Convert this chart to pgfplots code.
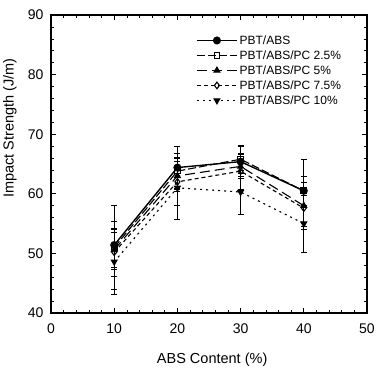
\documentclass[border=0pt]{standalone}
\usepackage{pgfplots}
\pgfplotsset{compat=1.18}
\usetikzlibrary{calc}
\usepackage{fontspec}
\setmainfont{Liberation Sans}

\begin{document}
\begin{tikzpicture}
\begin{axis}[
  scale only axis,
  width=316pt, height=298pt,
  xmin=0, xmax=50, ymin=40, ymax=90,
  xtick={0,10,...,50}, ytick={40,50,...,90},
  minor x tick num=4, minor y tick num=4,
  tick align=inside,
  major tick length=5pt, minor tick length=3pt,
  axis line style={line width=1.1pt},
  every tick/.style={black, line width=0.6pt},
  tick label style={font=\fontsize{14}{16}\selectfont},
  yticklabel style={xshift=-4pt},
  xticklabel style={yshift=-7pt},
  /pgf/number format/assume math mode=true,
  xlabel={ABS Content (\%)},
  ylabel={Impact Strength (J/m)},
  label style={font=\fontsize{14.5}{16}\selectfont},
  xlabel style={at={(axis description cs:0.51,-0.158)}, anchor=center},
  ylabel style={at={(axis description cs:-0.13,0.62)}, anchor=center},
  legend style={draw=none, fill=none, at={(0.459,0.939)}, anchor=north west,
    font=\fontsize{12}{14}\selectfont, inner xsep=0pt, inner ysep=0pt,
    row sep=0.8pt},
  legend cell align=left,
  legend image code/.code={
    \draw[mark repeat=2, mark phase=2, #1] plot coordinates {(0pt,0pt) (20pt,0pt) (40pt,0pt)};},
  error bars/error bar style={line width=0.6pt, black, solid},
  error bars/error mark options={rotate=90, mark size=3pt, line width=0.6pt, solid},
]
% PBT/ABS
\addplot[black, line width=1.4pt, mark=*, mark size=3.3pt,
  error bars/.cd, y dir=both, y explicit]
  coordinates {(10,51.4) +- (0,4.0) (20,64.4) +- (0,3.5) (30,65.4) +- (0,2.5) (40,60.5) +- (0,2.5)};
\addlegendentry{PBT/ABS}
% PBT/ABS/PC 2.5%
\addplot[black, line width=1.1pt, dash pattern=on 8pt off 3pt, mark=square, mark size=2.8pt,
  mark options={solid, fill=white},
  error bars/.cd, y dir=both, y explicit]
  coordinates {(10,51.0) +- (0,7.0) (20,63.8) +- (0,3.0) (30,65.8) +- (0,2.4) (40,60.5) +- (0,5.3)};
\addlegendentry{PBT/ABS/PC 2.5\%}
% PBT/ABS/PC 5%
\addplot[black, line width=1.1pt, dash pattern=on 10pt off 5pt, mark=triangle*, mark size=3.3pt,
  mark options={solid},
  error bars/.cd, y dir=both, y explicit]
  coordinates {(10,50.6) +- (0,3.0) (20,63.0) +- (0,2.5) (30,64.6) +- (0,2.0) (40,58.0) +- (0,4.0)};
\addlegendentry{PBT/ABS/PC 5\%}
% PBT/ABS/PC 7.5%
\addplot[black, line width=1.1pt, dash pattern=on 4pt off 3pt, mark=diamond, mark size=3.3pt,
  mark options={solid, fill=white},
  error bars/.cd, y dir=both, y explicit]
  coordinates {(10,50.2) +- (0,4.0) (20,62.0) +- (0,4.0) (30,63.8) +- (0,3.0) (40,57.6) +- (0,3.0)};
\addlegendentry{PBT/ABS/PC 7.5\%}
% PBT/ABS/PC 10%
\addplot[black, line width=1.1pt, dash pattern=on 2pt off 4pt, mark=triangle*, mark size=3.3pt,
  mark options={solid, rotate=180},
  error bars/.cd, y dir=both, y explicit]
  coordinates {(10,48.6) +- (0,5.4) (20,61.0) +- (0,5.2) (30,60.3) +- (0,3.7) (40,55.0) +- (0,4.8)};
\addlegendentry{PBT/ABS/PC 10\%}
\end{axis}
% fixed page margins around the plot box
\pgfresetboundingbox
\path ($(current axis.south west)+(-51pt,-57pt)$) rectangle ($(current axis.north east)+(10pt,15pt)$);
\end{tikzpicture}
\end{document}
